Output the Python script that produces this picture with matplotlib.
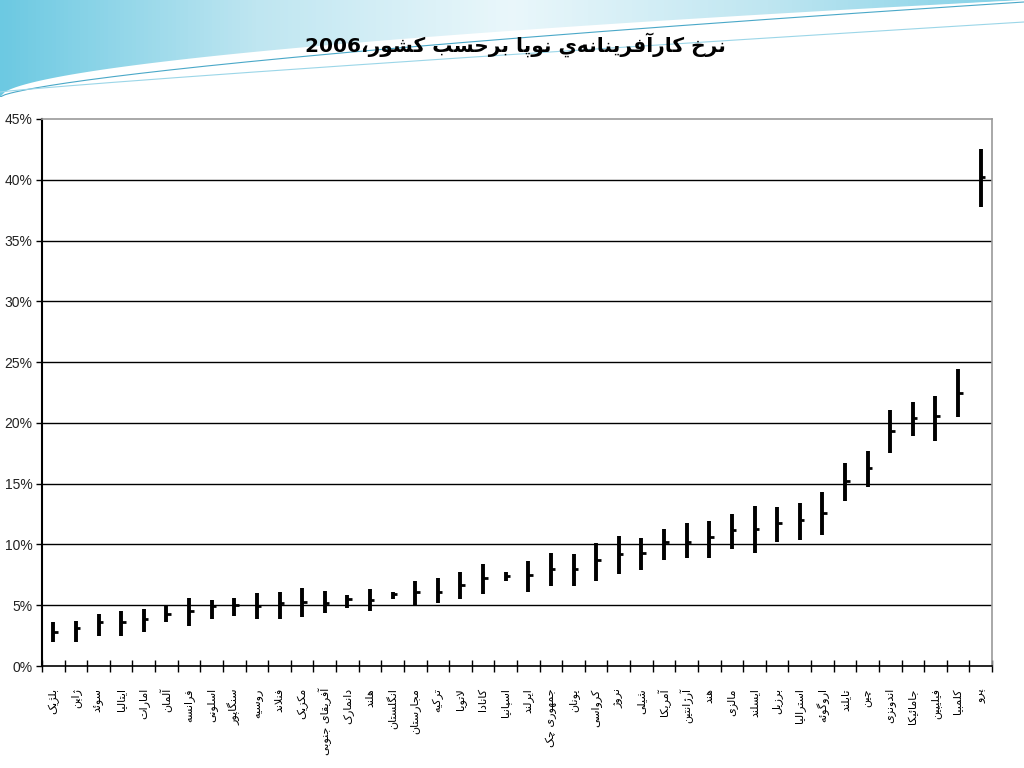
import re
import numpy as np
import matplotlib.pyplot as plt
from matplotlib.patches import Polygon
from matplotlib.colors import LinearSegmentedColormap

# GEM 2006 - nascent entrepreneurship rate by country (mean and interval)
title = 'نرخ كارآفرينانه\u200cي نوپا برحسب كشور،2006'

countries = ['بلژیک', 'ژاپن', 'سوئد', 'ایتالیا', 'امارات', 'آلمان', 'فرانسه',
             'اسلونی', 'سنگاپور', 'روسیه', 'فنلاند', 'مکزیک', 'آفریقای جنوبی',
             'دانمارک', 'هلند', 'انگلستان', 'مجارستان', 'ترکیه', 'لاتویا',
             'کانادا', 'اسپانیا', 'ایرلند', 'جمهوری چک', 'یونان', 'کرواسی',
             'نروژ', 'شیلی', 'آمریکا', 'آرژانتین', 'هند', 'مالزی', 'ایسلند',
             'برزیل', 'استرالیا', 'اروگوئه', 'تایلند', 'چین', 'اندونزی',
             'جامائیکا', 'فیلیپین', 'کلمبیا', 'پرو']

means = [2.8, 3.1, 3.6, 3.6, 3.9, 4.3, 4.5, 4.9, 5.0, 4.9, 5.2, 5.3, 5.2, 5.5,
         5.4, 5.9, 6.1, 6.1, 6.7, 7.2, 7.4, 7.5, 8.0, 8.0, 8.7, 9.2, 9.3, 10.2,
         10.2, 10.6, 11.2, 11.3, 11.8, 12.0, 12.6, 15.2, 16.3, 19.3, 20.4, 20.6,
         22.5, 40.25]
highs = [3.6, 3.7, 4.3, 4.5, 4.7, 4.9, 5.6, 5.4, 5.6, 6.0, 6.1, 6.4, 6.2, 5.8,
         6.3, 6.1, 7.0, 7.2, 7.7, 8.4, 7.7, 8.6, 9.3, 9.2, 10.1, 10.7, 10.5, 11.3,
         11.8, 11.9, 12.5, 13.2, 13.1, 13.4, 14.3, 16.7, 17.7, 21.1, 21.7, 22.2,
         24.4, 42.5]
lows = [2.0, 2.0, 2.5, 2.5, 2.8, 3.6, 3.3, 3.9, 4.1, 3.9, 3.9, 4.0, 4.4, 4.8,
        4.5, 5.5, 5.0, 5.2, 5.5, 5.9, 7.0, 6.1, 6.6, 6.6, 7.0, 7.6, 7.9, 8.7,
        8.9, 8.9, 9.6, 9.3, 10.2, 10.4, 10.8, 13.6, 14.7, 17.5, 18.9, 18.5,
        20.5, 37.8]
yticks = [0, 5, 10, 15, 20, 25, 30, 35, 40, 45]

# matplotlib does no arabic shaping, so do it by hand (presentation forms)
_FORMS = {'آ': (0xFE81, 2), 'أ': (0xFE83, 2), 'ؤ': (0xFE85, 2), 'إ': (0xFE87, 2),
          'ئ': (0xFE89, 4), 'ا': (0xFE8D, 2), 'ب': (0xFE8F, 4), 'ة': (0xFE93, 2),
          'ت': (0xFE95, 4), 'ث': (0xFE99, 4), 'ج': (0xFE9D, 4), 'ح': (0xFEA1, 4),
          'خ': (0xFEA5, 4), 'د': (0xFEA9, 2), 'ذ': (0xFEAB, 2), 'ر': (0xFEAD, 2),
          'ز': (0xFEAF, 2), 'س': (0xFEB1, 4), 'ش': (0xFEB5, 4), 'ص': (0xFEB9, 4),
          'ض': (0xFEBD, 4), 'ط': (0xFEC1, 4), 'ظ': (0xFEC5, 4), 'ع': (0xFEC9, 4),
          'غ': (0xFECD, 4), 'ف': (0xFED1, 4), 'ق': (0xFED5, 4), 'ك': (0xFED9, 4),
          'ل': (0xFEDD, 4), 'م': (0xFEE1, 4), 'ن': (0xFEE5, 4), 'ه': (0xFEE9, 4),
          'و': (0xFEED, 2), 'ى': (0xFEEF, 2), 'ي': (0xFEF1, 4), 'پ': (0xFB56, 4),
          'چ': (0xFB7A, 4), 'ژ': (0xFB8A, 2), 'ک': (0xFB8E, 4), 'گ': (0xFB92, 4),
          'ی': (0xFBFC, 4)}
_LAM_ALEF = {'آ': 0xFEF5, 'أ': 0xFEF7, 'إ': 0xFEF9, 'ا': 0xFEFB}


def _joins_next(c):
    return c in _FORMS and _FORMS[c][1] == 4


def shape(word):
    out = []
    i = 0
    n = len(word)
    while i < n:
        c = word[i]
        if c not in _FORMS:
            if c != '\u200c':
                out.append(c)
            i += 1
            continue
        conn_prev = i > 0 and _joins_next(word[i - 1])
        if c == 'ل' and i + 1 < n and word[i + 1] in _LAM_ALEF:
            out.append(chr(_LAM_ALEF[word[i + 1]] + (1 if conn_prev else 0)))
            i += 2
            continue
        nxt = word[i + 1] if i + 1 < n else ''
        conn_next = _joins_next(c) and nxt in _FORMS
        if conn_prev:
            form = 3 if conn_next else 1
        else:
            form = 2 if conn_next else 0
        out.append(chr(_FORMS[c][0] + form))
        i += 1
    return ''.join(out)


def fa(text):
    s = shape(text)
    parts = re.findall(r'[0-9]+|[^0-9]+', s)
    return ''.join(p if p[0].isdigit() else p[::-1] for p in reversed(parts))


fig = plt.figure(figsize=(10.24, 7.68), dpi=100)

# slide background decoration (blue swoosh at the top)
bg = fig.add_axes([0, 0, 1, 1], zorder=-5)
bg.set_xlim(0, 1024)
bg.set_ylim(768, 0)
bg.axis('off')
grad = np.linspace(0, 1, 256).reshape(1, -1)
cmap = LinearSegmentedColormap.from_list('sw', ['#6cc9e2', '#bfe6f1', '#eaf7fb', '#bfe6f1', '#7fd0e6'])
img = bg.imshow(grad, extent=[0, 1024, 100, 0], cmap=cmap, aspect='auto', zorder=0)
xs = np.linspace(0, 1024, 200)
upper = 97 - 97 * (xs / 1024) ** 0.55
clip = Polygon(np.column_stack([np.r_[xs, 1024, 0], np.r_[upper, 0, 0]]), closed=True,
               transform=bg.transData, facecolor='none', edgecolor='none')
bg.add_patch(clip)
img.set_clip_path(clip)
bg.fill_between(xs, 100 - 85 * (xs / 1024) ** 0.5, 100 - 100 * (xs / 1024) ** 0.6,
                color='white', alpha=0.6, lw=0, zorder=1)
bg.plot(xs, 97 - 95 * (xs / 1024) ** 0.7, color='#4aa8c8', lw=0.8, zorder=2)
bg.plot(xs, 92 - 70 * (xs / 1024) ** 0.9, color='#9bd6e8', lw=0.8, zorder=2)
bg.add_patch(plt.Rectangle((0, 97), 1024, 671, facecolor='white', edgecolor='none', zorder=3))

fig.text(0.503, 1 - 45 / 768, fa(title), fontsize=14.5, fontweight='bold',
         ha='center', va='center', family='DejaVu Sans')

ax = fig.add_axes([42 / 1024, 1 - 666 / 768, 950 / 1024, 547 / 768])
x = np.arange(len(countries))
ax.hlines(yticks[1:-1], -0.5, len(countries) - 0.5, color='black', lw=1, zorder=1)
ax.vlines(x, lows, highs, color='black', lw=2.8, zorder=3)
ax.hlines(means, x, x + 0.2, color='black', lw=2, zorder=3)

ax.set_xlim(-0.5, len(countries) - 0.5)
ax.set_ylim(0, 45)
ax.set_yticks(yticks)
ax.set_yticklabels([f'{v}%' for v in yticks], family='Liberation Sans', fontsize=10, color='#222222')
ax.set_xticks(x)
ax.set_xticklabels([fa(c) for c in countries], rotation=90, fontsize=8, family='DejaVu Sans')
ax.set_xticks(np.arange(-0.5, len(countries), 1), minor=True)
ax.tick_params(axis='x', which='major', length=0, pad=16)
ax.tick_params(axis='x', which='minor', direction='inout', length=9, width=1)
ax.tick_params(axis='y', direction='out', length=4, width=1, pad=3)

ax.spines['left'].set_linewidth(1.5)
ax.spines['bottom'].set_linewidth(1.2)
for s in ('top', 'right'):
    ax.spines[s].set_color('#999999')
    ax.spines[s].set_linewidth(1.2)

plt.savefig('out.png', dpi=100)
